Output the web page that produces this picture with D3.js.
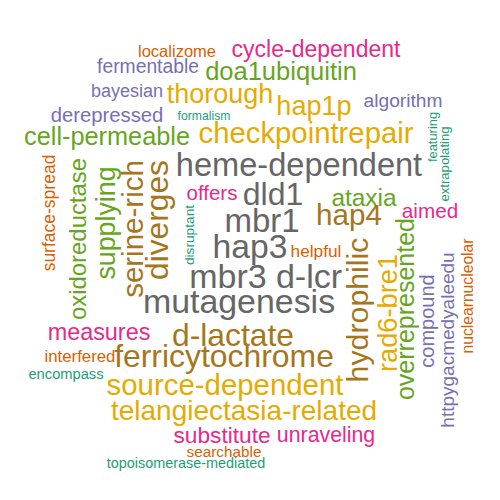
<!DOCTYPE html>
<html>
<head>
<meta charset="utf-8">
<script src="https://cdn.jsdelivr.net/npm/d3@7"></script>
<style>
  html, body { margin: 0; padding: 0; background: #ffffff; }
  svg { display: block; }
</style>
</head>
<body>
<svg id="chart" width="500" height="500"></svg>
<script>
// Words and their frequencies
const words = [
  "formalism","featuring","extrapolating","disruptant","topoisomerase-mediated","encompass",
  "searchable","nuclearnucleolar","localizome","interfered","helpful","surface-spread",
  "bayesian","httpygacmedyaleedu","algorithm","fermentable","compound","derepressed",
  "offers","aimed","unraveling","substitute","cycle-dependent","measures",
  "oxidoreductase","ataxia","overrepresented","cell-permeable","doa1ubiquitin","supplying",
  "thorough","hap1p","rad6-bre1","telangiectasia-related","checkpointrepair","source-dependent",
  "serine-rich","hap4","hydrophilic","diverges","d-lactate","ferricytochrome",
  "dld1","heme-dependent","mbr1","hap3","mutagenesis","mbr3","d-lcr"
];
const freqs = [
  12.2, 12.9, 13.1, 13.7, 14.4, 14.7,
  15.3, 15.7, 16.5, 16.8, 17.3, 17.5,
  18.0, 19.0, 19.2, 19.3, 20.0, 20.3,
  20.5, 20.7, 21.3, 22.7, 23.0, 23.4,
  23.9, 24.4, 25.0, 25.3, 25.5, 26.8,
  27.0, 27.1, 27.2, 28.0, 29.3, 29.4,
  29.5, 29.6, 30.3, 31.7, 31.8, 31.9,
  32.0, 32.6, 33.0, 33.7, 33.9, 34.0, 34.1
];

// Word-cloud placement (layout only): centre x, baseline / centre y, rotation
const layout = {
  "formalism": [204, 120, 0],
  "featuring": [437, 137, -90],
  "extrapolating": [449, 164, -90],
  "disruptant": [194, 235, -90],
  "topoisomerase-mediated": [186, 468, 0],
  "encompass": [66, 379, 0],
  "searchable": [224, 457, 0],
  "nuclearnucleolar": [473, 296, -90],
  "localizome": [177, 57, 0],
  "interfered": [80, 362, 0],
  "helpful": [316, 257, 0],
  "surface-spread": [55, 213, -90],
  "bayesian": [127, 97, 0],
  "httpygacmedyaleedu": [454, 340, -90],
  "algorithm": [403, 107, 0],
  "fermentable": [148, 73, 0],
  "compound": [434, 321, -90],
  "derepressed": [107, 122, 0],
  "offers": [212, 200, 0],
  "aimed": [430, 218, 0],
  "unraveling": [326, 442, 0],
  "substitute": [222, 443, 0],
  "cycle-dependent": [316, 57, 0],
  "measures": [99, 340, 0],
  "oxidoreductase": [86, 239, -90],
  "ataxia": [364, 206, 0],
  "overrepresented": [414, 309, -90],
  "cell-permeable": [107, 145, 0],
  "doa1ubiquitin": [281, 80, 0],
  "supplying": [115, 223, -90],
  "thorough": [220, 103, 0],
  "hap1p": [314, 115, 0],
  "rad6-bre1": [397, 313, -90],
  "telangiectasia-related": [244, 420, 0],
  "checkpointrepair": [306, 143, 0],
  "source-dependent": [225, 395, 0],
  "serine-rich": [143, 229, -90],
  "hap4": [349, 225, 0],
  "hydrophilic": [368, 310, -90],
  "diverges": [168, 220, -90],
  "d-lactate": [233, 346, 0],
  "ferricytochrome": [224, 367, 0],
  "dld1": [273, 205, 0],
  "heme-dependent": [299, 176, 0],
  "mbr1": [262, 232, 0],
  "hap3": [250, 258, 0],
  "mutagenesis": [239, 313, 0],
  "mbr3": [228, 288, 0],
  "d-lcr": [309, 288, 0]
};

const data = words.map((w, i) => ({ word: w, freq: freqs[i] }));

// font size from frequency
const size = d3.scaleLinear()
  .domain(d3.extent(freqs))
  .range([d3.min(freqs), d3.max(freqs)]);

// colour from frequency rank (groups of six, Dark2 palette, last group takes the rest)
const sorted = freqs.slice().sort((a, b) => a - b);
const rankGroup = d3.scaleThreshold().domain([6, 12, 18, 24, 30, 36, 42]).range(d3.range(8));
const palette = d3.schemeDark2;
const colorOf = f => palette[rankGroup(sorted.indexOf(f))];

const svg = d3.select("#chart");

svg.append("g")
  .selectAll("text")
  .data(data)
  .join("text")
  .attr("transform", d => {
    const p = layout[d.word];
    return `translate(${p[0]},${p[1]}) rotate(${p[2]})`;
  })
  .attr("text-anchor", "middle")
  .style("font-family", "'Liberation Sans', Arial, Helvetica, sans-serif")
  .style("font-size", d => size(d.freq) + "px")
  .style("fill", d => colorOf(d.freq))
  .text(d => d.word);
</script>
</body>
</html>
